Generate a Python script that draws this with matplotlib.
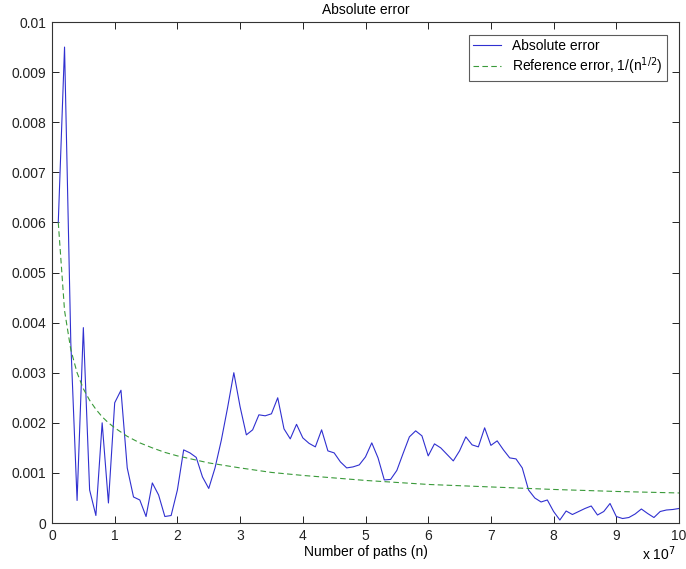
import matplotlib
matplotlib.use("Agg")
import matplotlib.pyplot as plt

plt.rcParams['font.family'] = ['Liberation Sans', 'DejaVu Sans']

# number of paths, in millions
n_paths = list(range(1, 101))
abs_err = [6.0, 9.5, 3.6, 0.45, 3.9, 0.66, 0.15, 2.0, 0.4, 2.4,
           2.65, 1.1, 0.52, 0.46, 0.13, 0.80, 0.56, 0.13, 0.15, 0.66,
           1.46, 1.40, 1.31, 0.92, 0.69, 1.1, 1.65, 2.3, 3.0, 2.32,
           1.76, 1.86, 2.16, 2.14, 2.18, 2.50, 1.88, 1.68, 1.97, 1.70,
           1.59, 1.52, 1.86, 1.44, 1.40, 1.22, 1.10, 1.12, 1.16, 1.32,
           1.60, 1.30, 0.86, 0.87, 1.05, 1.39, 1.72, 1.84, 1.74, 1.34,
           1.58, 1.50, 1.37, 1.24, 1.44, 1.72, 1.56, 1.52, 1.90, 1.55,
           1.64, 1.46, 1.30, 1.28, 1.10, 0.66, 0.50, 0.42, 0.46, 0.23,
           0.06, 0.24, 0.17, 0.23, 0.29, 0.34, 0.16, 0.23, 0.39, 0.13,
           0.09, 0.11, 0.18, 0.28, 0.19, 0.11, 0.23, 0.26, 0.27, 0.29]

ref_n = [1, 2, 3, 4, 5, 6, 7, 8, 9, 10, 12, 14, 16, 18, 20, 25, 30, 35,
         40, 50, 60, 70, 80, 90, 100]
ref_err = [6.0, 4.24, 3.46, 3.0, 2.68, 2.45, 2.27, 2.12, 2.0, 1.9, 1.73,
           1.6, 1.5, 1.41, 1.34, 1.2, 1.1, 1.01, 0.95, 0.85, 0.77, 0.72,
           0.67, 0.63, 0.6]

x_ticks = list(range(0, 11))
y_ticks = [0, 0.001, 0.002, 0.003, 0.004, 0.005, 0.006, 0.007, 0.008, 0.009, 0.01]
y_labels = ['0', '0.001', '0.002', '0.003', '0.004', '0.005', '0.006',
            '0.007', '0.008', '0.009', '0.01']

fig = plt.figure(figsize=(6.86, 5.69), dpi=100)
ax = fig.add_axes([0.0758, 0.0808, 0.914, 0.8805])

ax.plot([v * 1e6 for v in n_paths], [v * 1e-3 for v in abs_err],
        color='#3030d0', linewidth=0.8, label='Absolute error')
ax.plot([v * 1e6 for v in ref_n], [v * 1e-3 for v in ref_err],
        color='#3a9a3a', linewidth=0.8, linestyle=(0, (5, 3)),
        label='Reference error, 1/(n$^{1/2}$)')

ax.set_xlim(0, 1e8)
ax.set_ylim(0, 0.01)
ax.set_xticks([t * 1e7 for t in x_ticks])
ax.set_xticklabels([str(t) for t in x_ticks])
ax.set_yticks(y_ticks)
ax.set_yticklabels(y_labels)
ax.tick_params(direction='in', top=True, right=True, length=5, width=0.7,
               labelsize=10, colors='#222222', pad=4)
for s in ax.spines.values():
    s.set_linewidth(0.8)
    s.set_color('#333333')

ax.set_xlabel('Number of paths (n)', fontsize=10, labelpad=2)
ax.set_title('Absolute error', fontsize=10, pad=6)
ax.text(0.995, -0.042, 'x 10$^7$', transform=ax.transAxes, ha='right',
        va='top', fontsize=10)

leg = ax.legend(loc='upper right', fontsize=10, frameon=True, fancybox=False,
                handlelength=2.0, borderaxespad=0.9, borderpad=0.3,
                labelspacing=0.2)
leg.get_frame().set_edgecolor('#333333')
leg.get_frame().set_linewidth(0.8)

fig.savefig('out.png', dpi=100)
